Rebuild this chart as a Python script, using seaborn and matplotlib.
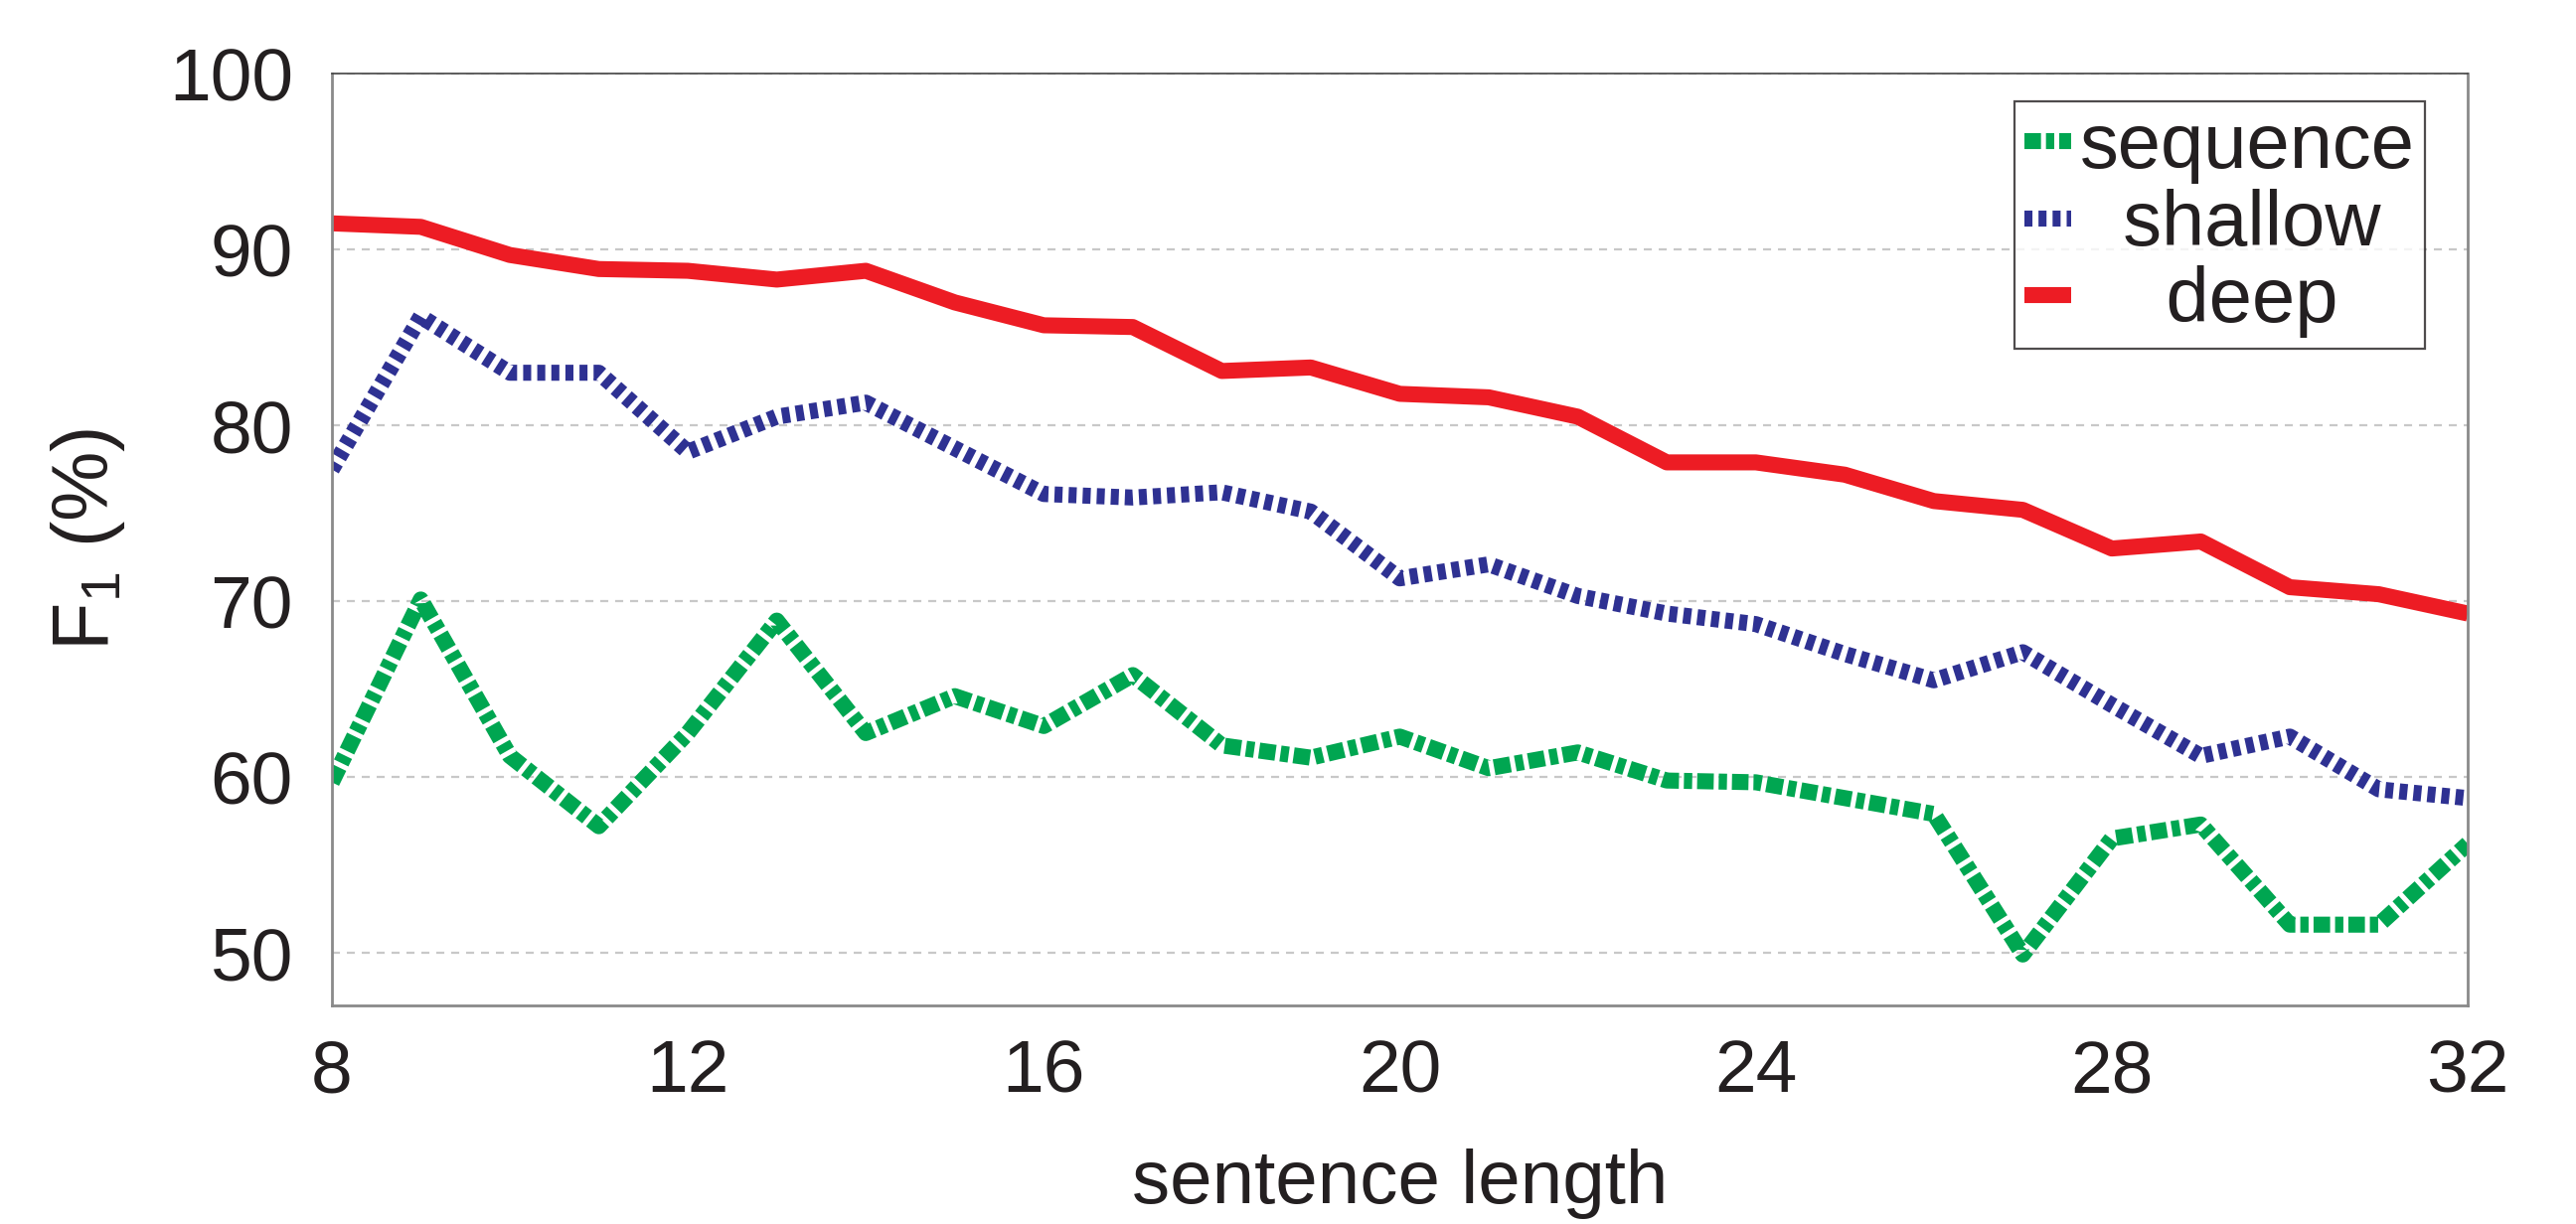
import numpy as np
import pandas as pd
import matplotlib
matplotlib.use("Agg")
import matplotlib.pyplot as plt
import seaborn as sns

# %% — Data
lengths = list(range(8, 33))

sequence = [59.7, 70.1, 61.2, 57.2, 62.5, 68.9, 62.5, 64.6, 62.9, 65.8,
            61.8, 61.1, 62.3, 60.5, 61.4, 59.8, 59.7, 58.8, 57.9, 49.9,
            56.5, 57.3, 51.6, 51.6, 56.2]
shallow = [77.5, 86.2, 83.0, 83.0, 78.5, 80.5, 81.3, 78.7, 76.1, 75.9,
           76.2, 75.1, 71.3, 72.1, 70.3, 69.3, 68.7, 67.0, 65.5, 67.1,
           64.1, 61.2, 62.3, 59.3, 58.8]
deep = [91.5, 91.3, 89.7, 88.9, 88.8, 88.3, 88.8, 87.0, 85.7, 85.6,
        83.1, 83.3, 81.8, 81.6, 80.5, 77.9, 77.9, 77.2, 75.7, 75.2,
        73.0, 73.4, 70.8, 70.4, 69.3]

series_names = ["sequence", "shallow", "deep"]
legend_labels = ["sequence", "  shallow", "    deep"]
yticks = [50, 60, 70, 80, 90, 100]
xticks = [8, 12, 16, 20, 24, 28, 32]

df = pd.DataFrame({
    "length": lengths * 3,
    "f1": sequence + shallow + deep,
    "model": ["sequence"] * 25 + ["shallow"] * 25 + ["deep"] * 25,
})

# %% — Style
sns.set_theme(style="white")
plt.rcParams["font.family"] = ["Liberation Sans", "DejaVu Sans"]
plt.rcParams["mathtext.fontset"] = "custom"
plt.rcParams["mathtext.rm"] = "Liberation Sans"
plt.rcParams["lines.scale_dashes"] = False

palette = {"sequence": "#00A651", "shallow": "#2E3192", "deep": "#ED1C24"}
dashes = {"sequence": (6.0, 1.8, 3.0, 1.8), "shallow": (2.9, 2.2), "deep": ""}
text_col = "#231f20"

fig = plt.figure(figsize=(12.96, 6.16), dpi=200)
ax = fig.add_axes([0.1288, 0.1785, 0.8292, 0.7611])

sns.lineplot(data=df, x="length", y="f1", hue="model", style="model",
             hue_order=series_names, style_order=series_names,
             palette=palette, dashes=dashes, lw=5.8, legend=False, ax=ax,
             solid_capstyle="butt", dash_capstyle="butt")

ax.set_xlim(8, 32)
ax.set_ylim(47, 100)
ax.set_xticks(xticks)
ax.set_yticks(yticks)
ax.yaxis.grid(True, color="#c8c8c8", lw=0.8, linestyle=(0, (2.9, 2.5)))
ax.xaxis.grid(False)

for side in ["left", "bottom", "right"]:
    ax.spines[side].set_color("#8a8a8a")
    ax.spines[side].set_linewidth(1.0)
ax.spines["top"].set_color("#444444")
ax.spines["top"].set_linewidth(0.6)

ax.tick_params(axis="x", direction="in", length=3, width=0.8, color="#999999",
               labelsize=27, pad=12, labelcolor=text_col)
ax.tick_params(axis="y", direction="in", length=0, labelsize=27, pad=14,
               labelcolor=text_col)

ax.set_xlabel("sentence length", fontsize=27.5, color=text_col, labelpad=15)
ax.set_ylabel(r"F$_\mathregular{1}$ (%)", fontsize=28.5, color=text_col,
              labelpad=15)

leg = ax.legend(handles=ax.lines[:3], labels=legend_labels,
                loc="upper right", bbox_to_anchor=(2440 / 2592, 1 - 102 / 1232),
                bbox_transform=fig.transFigure, borderaxespad=0,
                fontsize=28, handlelength=0.6, handletextpad=0.12,
                labelspacing=0.06, borderpad=0.13, frameon=True, fancybox=False)
leg.get_frame().set_edgecolor(text_col)
leg.get_frame().set_linewidth(0.8)
for t in leg.get_texts():
    t.set_color(text_col)

fig.savefig("out.png", dpi=200)
